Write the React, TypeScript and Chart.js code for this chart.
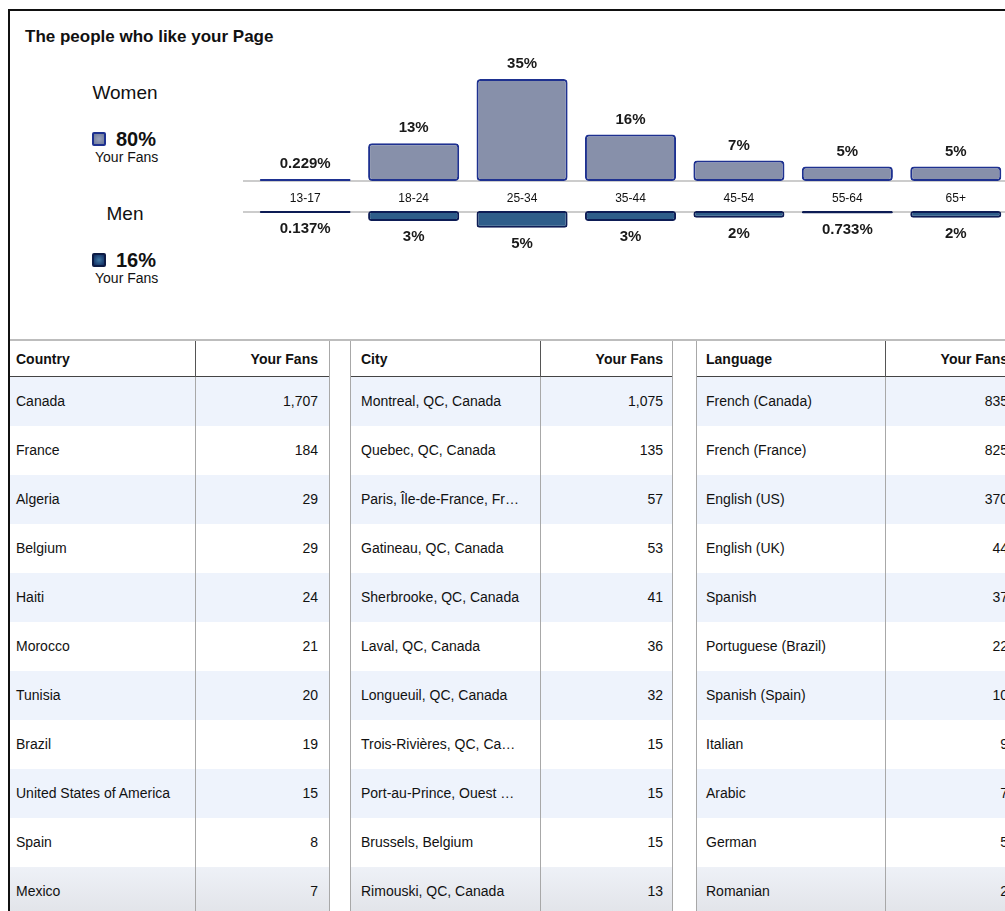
import React, { useEffect, useRef } from "react";
import { Chart, registerables } from "chart.js";

Chart.register(...registerables);

const FONT = "'Liberation Sans', Arial, Helvetica, sans-serif";

// ---------- data ----------
const ageGroups = ["13-17", "18-24", "25-34", "35-44", "45-54", "55-64", "65+"];
const womenPct = [0.229, 13, 35, 16, 7, 5, 5];
const menPct = [0.137, 3, 5, 3, 2, 0.733, 2];
const womenShare = "80%";
const menShare = "16%";

const countries = ["Canada", "France", "Algeria", "Belgium", "Haiti", "Morocco", "Tunisia", "Brazil", "United States of America", "Spain", "Mexico"];
const countryFans = [1707, 184, 29, 29, 24, 21, 20, 19, 15, 8, 7];

const cities = ["Montreal, QC, Canada", "Quebec, QC, Canada", "Paris, Île-de-France, Fr…", "Gatineau, QC, Canada", "Sherbrooke, QC, Canada", "Laval, QC, Canada", "Longueuil, QC, Canada", "Trois-Rivières, QC, Ca…", "Port-au-Prince, Ouest …", "Brussels, Belgium", "Rimouski, QC, Canada"];
const cityFans = [1075, 135, 57, 53, 41, 36, 32, 15, 15, 15, 13];

const languages = ["French (Canada)", "French (France)", "English (US)", "English (UK)", "Spanish", "Portuguese (Brazil)", "Spanish (Spain)", "Italian", "Arabic", "German", "Romanian"];
const languageFans = [835, 825, 370, 44, 37, 22, 10, 9, 7, 5, 2];

// ---------- helpers ----------
const fmtPct = (v: number) => (v < 1 ? v.toFixed(3) + "%" : Math.round(v) + "%");
const fmtNum = (v: number) => v.toLocaleString("en-US");

const valueLabelPlugin = (dir: "up" | "down") => ({
  id: "valueLabels" + dir,
  afterDatasetsDraw(chart: any) {
    const ctx = chart.ctx;
    const meta = chart.getDatasetMeta(0);
    const data = chart.data.datasets[0].data as number[];
    ctx.save();
    ctx.font = `bold 15px ${FONT}`;
    ctx.fillStyle = "#1a1a1a";
    ctx.textAlign = "center";
    ctx.textBaseline = "middle";
    meta.data.forEach((bar: any, i: number) => {
      const y = dir === "up" ? bar.y - 15 : bar.y + 16;
      ctx.fillText(fmtPct(data[i]), bar.x, y);
    });
    ctx.restore();
  },
});

const bandLinePlugin = (where: "top" | "bottom") => ({
  id: "bandLine" + where,
  beforeDatasetsDraw(chart: any) {
    const ctx = chart.ctx;
    const y = where === "top" ? chart.chartArea.bottom : chart.chartArea.top + 1;
    ctx.save();
    ctx.strokeStyle = "#cccccc";
    ctx.lineWidth = 2;
    ctx.beginPath();
    ctx.moveTo(0, y);
    ctx.lineTo(chart.width, y);
    ctx.stroke();
    ctx.restore();
  },
});

function AgeCharts() {
  const topRef = useRef<HTMLCanvasElement>(null);
  const botRef = useRef<HTMLCanvasElement>(null);

  useEffect(() => {
    Chart.defaults.font.family = FONT;
    const women = new Chart(topRef.current!, {
      type: "bar",
      data: {
        labels: ageGroups,
        datasets: [
          {
            data: womenPct,
            backgroundColor: "#8790aa",
            borderColor: "#1e3190",
            borderWidth: 2,
            borderRadius: 4,
            borderSkipped: false,
            barPercentage: 0.84,
            categoryPercentage: 1,
            minBarLength: 2,
          },
        ],
      },
      options: {
        animation: false,
        responsive: false,
        maintainAspectRatio: false,
        layout: { padding: { left: 8, right: 0, top: 0, bottom: 0 } },
        plugins: { legend: { display: false }, tooltip: { enabled: false } },
        scales: {
          x: {
            grid: { display: false },
            border: { display: false },
            ticks: { color: "#111", font: { size: 12 }, padding: 2 },
            afterFit: (s: any) => {
              s.height = 31;
            },
          },
          y: { display: false, min: 0, max: 46.7 },
        },
      },
      plugins: [bandLinePlugin("top"), valueLabelPlugin("up")],
    } as any);

    const men = new Chart(botRef.current!, {
      type: "bar",
      data: {
        labels: ageGroups,
        datasets: [
          {
            data: menPct,
            backgroundColor: "#2e5d8a",
            borderColor: "#0d1c55",
            borderWidth: 2,
            borderRadius: 3,
            borderSkipped: false,
            barPercentage: 0.84,
            categoryPercentage: 1,
            minBarLength: 2,
          },
        ],
      },
      options: {
        animation: false,
        responsive: false,
        maintainAspectRatio: false,
        layout: { padding: { left: 8, right: 0, top: 0, bottom: 0 } },
        plugins: { legend: { display: false }, tooltip: { enabled: false } },
        scales: {
          x: { display: false },
          y: { display: false, min: 0, max: 15, reverse: true },
        },
      },
      plugins: [bandLinePlugin("bottom"), valueLabelPlugin("down")],
    } as any);

    return () => {
      women.destroy();
      men.destroy();
    };
  }, []);

  return (
    <>
      <canvas
        ref={topRef}
        width={767}
        height={167}
        style={{ position: "absolute", left: 243, top: 45, width: 767, height: 167 }}
      />
      <canvas
        ref={botRef}
        width={767}
        height={50}
        style={{ position: "absolute", left: 243, top: 211, width: 767, height: 50 }}
      />
    </>
  );
}

type TableProps = {
  left: number;
  col1: number;
  col2: number;
  title: string;
  names: string[];
  values: number[];
  padL: number;
  padR: number;
  leftBorder: boolean;
};

function FansTable({ left, col1, col2, title, names, values, padL, padR, leftBorder }: TableProps) {
  const top = 341;
  const headH = 36;
  const rowH = 49;
  const totalH = 911 - top;
  const cellText: React.CSSProperties = {
    position: "absolute",
    fontSize: 14,
    lineHeight: "18px",
    color: "#111",
    whiteSpace: "nowrap",
  };
  return (
    <div style={{ position: "absolute", left, top, width: col1 + col2, height: totalH }}>
      {names.map((n, i) => (
        <div
          key={"bg" + i}
          style={{
            position: "absolute",
            left: 0,
            top: headH + i * rowH,
            width: col1 + col2,
            height: rowH,
            background:
              i === names.length - 1
                ? "linear-gradient(#eef1f7, #e1e3e8)"
                : i % 2 === 0
                ? "#eef3fc"
                : "#ffffff",
          }}
        />
      ))}
      {/* header */}
      <div style={{ ...cellText, left: padL, top: headH / 2 - 9, fontWeight: "bold" }}>{title}</div>
      <div
        style={{
          ...cellText,
          left: col1,
          width: col2 - padR,
          textAlign: "right",
          top: headH / 2 - 9,
          fontWeight: "bold",
        }}
      >
        Your Fans
      </div>
      <div style={{ position: "absolute", left: 0, top: headH - 1, width: col1 + col2, height: 1, background: "#444" }} />
      {/* rows */}
      {names.map((n, i) => (
        <React.Fragment key={"r" + i}>
          <div style={{ ...cellText, left: padL, top: headH + i * rowH + rowH / 2 - 10 }}>{n}</div>
          <div
            style={{
              ...cellText,
              left: col1,
              width: col2 - padR,
              textAlign: "right",
              top: headH + i * rowH + rowH / 2 - 10,
            }}
          >
            {fmtNum(values[i])}
          </div>
        </React.Fragment>
      ))}
      {/* vertical lines */}
      <div style={{ position: "absolute", left: col1, top: 0, width: 1, height: headH, background: "#555" }} />
      <div style={{ position: "absolute", left: col1, top: headH, width: 1, height: totalH - headH, background: "#a8a8a8" }} />
      <div style={{ position: "absolute", left: col1 + col2 - 1, top: 0, width: 1, height: totalH, background: "#a8a8a8" }} />
      {leftBorder && (
        <div style={{ position: "absolute", left: 0, top: 0, width: 1, height: totalH, background: "#a8a8a8" }} />
      )}
    </div>
  );
}

function Legend() {
  const sq = (bg: string, border: string): React.CSSProperties => ({
    position: "absolute",
    left: 92,
    width: 10,
    height: 10,
    border: `2px solid ${border}`,
    borderRadius: 2,
    background: bg,
  });
  return (
    <>
      <div style={{ position: "absolute", left: 60, width: 130, top: 82, textAlign: "center", fontSize: 19, lineHeight: "22px", color: "#111" }}>
        Women
      </div>
      <div style={{ ...sq("radial-gradient(#9aa2bd, #6f7a99)", "#1e3190"), top: 132 }} />
      <div style={{ position: "absolute", left: 116, top: 128, fontSize: 20, fontWeight: "bold", lineHeight: "22px", color: "#111" }}>
        {womenShare}
      </div>
      <div style={{ position: "absolute", left: 95, top: 149, fontSize: 14, lineHeight: "16px", color: "#111" }}>Your Fans</div>

      <div style={{ position: "absolute", left: 60, width: 130, top: 203, textAlign: "center", fontSize: 19, lineHeight: "22px", color: "#111" }}>
        Men
      </div>
      <div style={{ ...sq("radial-gradient(#3f78a4, #0f2a5e)", "#0d1c45"), top: 253 }} />
      <div style={{ position: "absolute", left: 116, top: 249, fontSize: 20, fontWeight: "bold", lineHeight: "22px", color: "#111" }}>
        {menShare}
      </div>
      <div style={{ position: "absolute", left: 95, top: 270, fontSize: 14, lineHeight: "16px", color: "#111" }}>Your Fans</div>
    </>
  );
}

export default function App() {
  return (
    <div
      style={{
        position: "fixed",
        left: 0,
        top: 0,
        width: 1005,
        height: 911,
        overflow: "hidden",
        background: "#fff",
        fontFamily: FONT,
      }}
    >
      {/* outer frame */}
      <div style={{ position: "absolute", left: 8, top: 9, width: 1005, height: 2, background: "#111" }} />
      <div style={{ position: "absolute", left: 8, top: 9, width: 2, height: 911, background: "#111" }} />

      <div style={{ position: "absolute", left: 25, top: 27, fontSize: 17, fontWeight: "bold", lineHeight: "20px", color: "#111" }}>
        The people who like your Page
      </div>

      <Legend />
      <AgeCharts />

      {/* table top rule */}
      <div style={{ position: "absolute", left: 10, top: 339, width: 1000, height: 2, background: "#bdbdbd" }} />

      <FansTable left={10} col1={185} col2={135} title="Country" names={countries} values={countryFans} padL={6} padR={12} leftBorder={false} />
      <FansTable left={350} col1={190} col2={133} title="City" names={cities} values={cityFans} padL={11} padR={10} leftBorder={true} />
      <FansTable left={696} col1={189} col2={135} title="Language" names={languages} values={languageFans} padL={10} padR={12} leftBorder={true} />
    </div>
  );
}
